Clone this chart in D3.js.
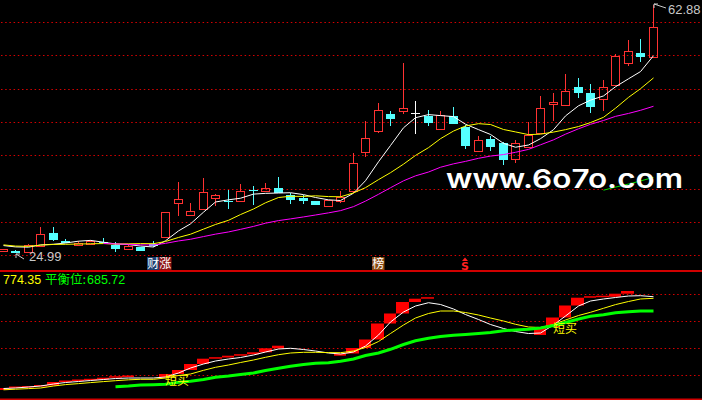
<!DOCTYPE html>
<html><head><meta charset="utf-8">
<script src="https://cdn.jsdelivr.net/npm/d3@7"></script>
<style>html,body{margin:0;padding:0;background:#000;overflow:hidden}svg{display:block}</style>
</head><body><svg id="c" width="702" height="400"></svg>
<script>
// ---------------- data ----------------
const opens  = [25.17,25.27,25.02,25.99,28.02,26.80,26.14,26.29,26.60,26.19,25.48,25.79,26.22,27.41,32.52,30.69,31.60,33.38,32.87,32.83,34.56,34.44,34.86,33.75,33.41,32.87,32.16,32.92,34.45,40.42,43.64,46.19,46.70,46.35,45.93,43.94,45.89,44.16,40.57,42.37,41.71,39.26,41.19,43.24,47.72,47.53,50.28,49.36,48.54,50.59,53.95,55.49,54.97];
const highs  = [25.45,25.30,26.25,28.94,28.94,27.06,26.80,26.95,27.21,26.60,26.19,25.79,26.75,31.14,35.78,32.52,36.40,33.90,34.56,35.48,35.17,35.58,36.55,34.05,33.79,32.87,33.03,34.36,40.27,45.12,47.92,46.65,54.05,48.18,46.81,46.65,47.26,44.51,42.83,42.90,41.91,42.21,44.92,48.95,49.36,52.32,51.70,50.79,51.40,55.38,57.52,57.67,62.88];
const lows   = [25.17,24.99,25.02,25.91,26.80,26.40,26.14,26.29,26.37,25.11,25.48,25.17,25.88,27.36,30.62,30.69,31.60,32.16,31.60,32.83,32.19,34.25,34.05,32.42,32.42,32.26,32.16,32.61,34.15,39.56,43.33,44.36,46.19,43.18,44.36,43.94,44.66,40.88,40.57,40.57,38.46,38.74,41.19,43.24,45.17,47.53,48.69,46.39,46.70,50.59,53.59,54.15,54.97];
const closes = [25.45,24.99,26.09,27.82,26.90,26.40,26.40,26.71,26.40,25.57,25.94,25.27,25.99,31.14,33.13,31.34,34.21,33.79,32.80,34.36,34.48,34.79,34.05,33.03,32.92,32.26,33.00,33.53,38.65,42.47,46.76,45.43,47.11,46.35,44.86,45.99,44.66,41.29,42.21,41.17,39.15,41.71,42.98,47.07,48.03,49.71,49.45,47.31,50.28,55.07,55.79,54.97,59.47];
// estimated closes of the 11 bars before the visible window (inferred from the MA lines)
const priorCloses = [27.0,27.2,26.8,26.5,26.0,25.8,26.2,26.0,26.3,26.1,26.4];
const maPeriods = [5, 10, 20, 60];

const markerBars  = [12, 13, 30, 37];
const markerTexts = ['财', '涨', '榜', 'S'];

// lower indicator panel
const lowerRedPrev = 134.4;
const lowerRed    = [148.3,151.8,158.8,165.8,190.2,197.2,202.1,207.6,220.2,225.1,228.6,226.5,223.0,246.0,273.9,315.8,352.8,361.2,373.7,383.5,397.5,425.4,443.5,425.4,411.4,397.5,373.7,389.1,427.5,486.8,598.5,668.3,748.5,771.5,778.5,731.1,699.7,661.3,626.4,591.5,563.6,542.6,518.2,574.0,640.3,724.1,778.5,782.0,784.8,806.4,825.3,792.5,785.5];
const lowerWhite  = [144.8,148.3,155.3,162.3,176.2,186.7,193.7,200.7,207.6,214.6,218.1,218.1,218.1,225.1,253.0,287.9,315.8,336.7,350.7,361.2,378.6,399.6,420.5,425.4,417.0,406.5,392.6,385.6,399.6,441.4,518.2,608.9,678.7,720.6,743.6,731.1,699.7,661.3,626.4,591.5,563.6,542.6,528.7,532.2,588.0,650.8,720.6,755.5,769.5,779.9,790.4,792.5,785.5];
const lowerYellow = [135.8,139.9,144.1,148.3,162.3,172.0,179.0,186.0,193.0,199.3,205.5,209.0,209.0,218.1,235.6,246.0,271.8,292.8,308.8,326.3,343.7,362.6,380.7,392.6,397.5,397.5,395.4,394.7,406.5,431.0,472.8,528.7,588.0,636.8,668.3,685.7,685.7,675.2,657.8,636.8,615.9,592.9,574.0,570.5,591.5,622.9,654.3,676.6,704.6,730.4,752.0,769.5,774.35];
const lowerGreen  = [null,null,null,null,null,null,null,null,null,157.4,162.3,169.3,171.3,174.8,188.8,195.8,207.6,223.7,232.1,242.5,253.0,270.4,286.5,299.8,312.3,320.7,324.9,334.7,350.7,375.1,392.6,418.4,451.9,478.4,495.2,507.7,516.1,521.7,528.7,535.7,548.2,553.1,558.0,567.1,584.5,605.4,629.9,648.7,659.9,673.1,680.1,685.7,685.72];
const lowerDomain = [71.6, 957.9];
const signalBars   = [13, 44];
const signalValues = [207.6, 567.1];
const signalText   = '短买';
const balanceLabel = '平衡位:';
const watermark = 'www.6o7o.com';

// ---------------- drawing ----------------
const svg = d3.select('#c');
svg.append('rect').attr('width',702).attr('height',400).attr('fill','#000');
const RED='#ff3232', CYAN='#54ffff', GRID='#d80000';
const n = closes.length;
const x = d3.scaleBand().domain(d3.range(n)).range([-3.25, 658.75]).padding(0);
const step = x.step();
const cx = i => Math.round(x(i) + step/2);
const y = d3.scaleLinear().domain([d3.min(lows), d3.max(highs)]).range([252.5, 5]);
const yl = d3.scaleLinear().domain(lowerDomain).range([399, 272]);

// grids
const g0 = svg.append('g');
for (let k=0;k<8;k++){
  const yy = Math.round(22.2 + k*33.27) + 0.5;
  g0.append('line').attr('x1',1).attr('x2',702).attr('y1',yy).attr('y2',yy)
    .attr('stroke',GRID).attr('stroke-dasharray','1.5,2.7').attr('stroke-width',1);
}
for (let k=0;k<4;k++){
  const yy = 294.5 + k*27;
  g0.append('line').attr('x1',1).attr('x2',702).attr('y1',yy).attr('y2',yy)
    .attr('stroke',GRID).attr('stroke-dasharray','1.5,2.7').attr('stroke-width',1);
}
g0.append('line').attr('x1',0).attr('x2',702).attr('y1',271).attr('y2',271).attr('stroke','#d00000').attr('stroke-width',2);
g0.append('line').attr('x1',0).attr('x2',702).attr('y1',399.5).attr('y2',399.5).attr('stroke','#d00000').attr('stroke-width',2);

// candles
const gc = svg.append('g');
for (let i=0;i<n;i++){
  const o=opens[i], c=closes[i], h=highs[i], l=lows[i];
  const xc = cx(i);
  const yt = Math.round(y(Math.max(o,c))), yb = Math.round(y(Math.min(o,c)));
  const yh = Math.round(y(h)), ylo = Math.round(y(l));
  if (c === o){
    gc.append('line').attr('x1',xc+0.5).attr('x2',xc+0.5).attr('y1',yh).attr('y2',ylo).attr('stroke','#fff');
    gc.append('line').attr('x1',xc-4).attr('x2',xc+5).attr('y1',yt+0.5).attr('y2',yt+0.5).attr('stroke','#fff');
  } else if (c > o){
    if (yt > yh) gc.append('line').attr('x1',xc+0.5).attr('x2',xc+0.5).attr('y1',yh).attr('y2',yt).attr('stroke',RED);
    if (ylo > yb) gc.append('line').attr('x1',xc+0.5).attr('x2',xc+0.5).attr('y1',yb).attr('y2',ylo).attr('stroke',RED);
    gc.append('rect').attr('x',xc-4+0.5).attr('y',yt+0.5).attr('width',8).attr('height',Math.max(1,yb-yt))
      .attr('fill','none').attr('stroke',RED);
  } else {
    gc.append('line').attr('x1',xc+0.5).attr('x2',xc+0.5).attr('y1',yh).attr('y2',ylo).attr('stroke',CYAN);
    gc.append('rect').attr('x',xc-4).attr('y',yt).attr('width',9).attr('height',Math.max(1,yb-yt)).attr('fill',CYAN);
  }
}

// moving averages (history + visible closes)
const allCloses = priorCloses.concat(closes);
const off = priorCloses.length;
const maColors = ['#ffffff','#ffff00','#ff00ff','#00e000'];
maPeriods.forEach((p,k)=>{
  const vals = closes.map((_,i)=>{
    const j = i + off;
    return (j+1 >= p) ? d3.mean(allCloses.slice(j-p+1, j+1)) : null;
  });
  const line = d3.line().defined(d=>d!=null).x((d,i)=>cx(i)+0.5).y(d=>y(d));
  svg.append('path').attr('d', line(vals)).attr('fill','none').attr('stroke',maColors[k]).attr('stroke-width',1);
});

// extreme labels
const iMax = d3.maxIndex(highs), iMin = d3.minIndex(lows);
const fmt = d3.format('.2f');
{
  const px = cx(iMax)+1, py = Math.round(y(highs[iMax]))-1;
  svg.append('path').attr('d',`M${px},${py} L${px+12},${py+4} M${px},${py} l0,4 M${px},${py} l4,0`).attr('stroke','#c8c8c8').attr('fill','none');
  svg.append('text').attr('x',px+14).attr('y',py+10).text(fmt(highs[iMax]))
    .attr('fill','#c8c8c8').attr('font-family','Liberation Sans, Arial, sans-serif').attr('font-size',13);
}
{
  const px = cx(iMin)+1, py = Math.round(y(lows[iMin]))+1;
  svg.append('path').attr('d',`M${px},${py} L${px+8},${py+5} M${px},${py} l0,4 M${px},${py} l4,0`).attr('stroke','#c8c8c8').attr('fill','none');
  svg.append('text').attr('x',px+13).attr('y',py+7).text(fmt(lows[iMin]))
    .attr('fill','#c8c8c8').attr('font-family','Liberation Sans, Arial, sans-serif').attr('font-size',13);
}

// markers row
const markerBg = {'财':'#1d3f70','涨':'#8e1515','榜':'#8a4a10'};
markerTexts.forEach((t,k)=>{
  const xc = cx(markerBars[k]);
  if (markerBg[t]){
    svg.append('rect').attr('x',xc-6).attr('y',257).attr('width',12.5).attr('height',13).attr('fill',markerBg[t]);
    svg.append('text').attr('x',xc+0.25).attr('y',268).attr('text-anchor','middle').text(t)
      .attr('fill','#fff').attr('font-family','Noto Sans CJK SC, sans-serif').attr('font-size',12);
  } else {
    svg.append('path').attr('d',`M${xc-3},${261} L${xc},${257.5} L${xc+3},${261} Z`).attr('fill','#ff2020');
    svg.append('text').attr('x',xc).attr('y',270).attr('text-anchor','middle').text(t)
      .attr('fill','#ff2020').attr('font-weight','bold').attr('font-family','DejaVu Sans, sans-serif').attr('font-size',11);
  }
});

// watermark
svg.append('text').attr('x',446).attr('y',188).text(watermark)
  .attr('fill','#ffffff').attr('font-family','Inter, sans-serif').attr('font-weight',600).attr('font-size',26)
  .attr('textLength',237).attr('lengthAdjust','spacingAndGlyphs');

// lower panel
const gl = svg.append('g');
for (let i=0;i<n;i++){
  const prev = i===0 ? lowerRedPrev : lowerRed[i-1];
  const cur = lowerRed[i];
  if (cur > prev){
    const y1 = yl(cur), y2 = yl(prev);
    const h = Math.max(1.5, y2-y1);
    const x0 = Math.round(x(i)), x1 = Math.round(x(i)+step);
    gl.append('rect').attr('x',x0).attr('y',y2-h).attr('width',x1-x0).attr('height',h).attr('fill','#ff0000');
  }
}
const lineL = d3.line().defined(d=>d!=null).x((d,i)=>cx(i)+0.5).y(d=>yl(d));
gl.append('path').attr('d',lineL(lowerWhite)).attr('fill','none').attr('stroke','#fff').attr('stroke-width',1);
gl.append('path').attr('d',lineL(lowerYellow)).attr('fill','none').attr('stroke','#ffff00').attr('stroke-width',1);
gl.append('path').attr('d',lineL(lowerGreen)).attr('fill','none').attr('stroke','#00ff00').attr('stroke-width',3);
signalBars.forEach((b,k)=>{
  gl.append('text').attr('x',cx(b)).attr('y',yl(signalValues[k])+5).text(signalText)
    .attr('fill','#ffff00').attr('font-family','Noto Sans CJK SC, sans-serif').attr('font-size',12);
});

// header
const lastY = lowerYellow[n-1], lastG = lowerGreen[n-1];
svg.append('text').attr('x',3).attr('y',284).text(fmt(lastY))
  .attr('fill','#ffff00').attr('font-family','Liberation Sans, Arial, sans-serif').attr('font-size',12.5);
svg.append('text').attr('x',45).attr('y',284).text(balanceLabel)
  .attr('fill','#00ff00').attr('font-family','Noto Sans CJK SC, sans-serif').attr('font-size',12.5);
svg.append('text').attr('x',87).attr('y',284).text(fmt(lastG))
  .attr('fill','#00ff00').attr('font-family','Liberation Sans, Arial, sans-serif').attr('font-size',12.5);
</script>
</body></html>
